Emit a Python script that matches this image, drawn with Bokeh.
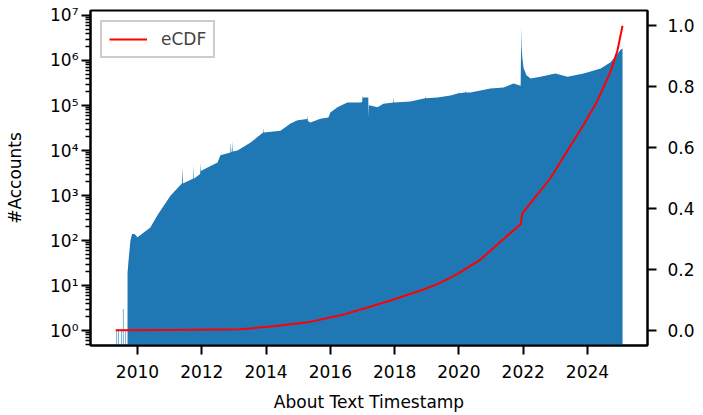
from bokeh.plotting import figure
from bokeh.models import (Range1d, LinearAxis, LinearScale, FixedTicker, CustomJSTickFormatter,
                          PrintfTickFormatter, Legend, LegendItem)
from bokeh.embed import file_html
from bokeh.resources import INLINE

# ---- data ----
# upper envelope of the daily histogram (year, #accounts)
hist_year = [2009.69, 2009.72, 2009.78, 2009.83, 2009.91, 2010.00, 2010.40, 2010.62, 2011.03,
             2011.38, 2011.40, 2011.41, 2011.74, 2011.75, 2011.76, 2011.95, 2011.96, 2011.97,
             2012.12, 2012.49, 2012.58, 2012.89, 2012.90, 2012.92, 2012.95, 2012.96, 2012.97,
             2013.11, 2013.20, 2013.52, 2013.91, 2013.92, 2013.93, 2014.45, 2014.76, 2014.98,
             2015.28, 2015.29, 2015.30, 2015.38, 2015.69, 2015.94, 2016.00, 2016.22, 2016.53,
             2016.94, 2016.99, 2017.00, 2017.01, 2017.12, 2017.18, 2017.19, 2017.20, 2017.25,
             2017.47, 2017.56, 2017.65, 2017.96, 2017.97, 2017.98, 2018.49, 2018.95, 2018.96,
             2018.97, 2019.33, 2019.74, 2019.99, 2020.00, 2020.01, 2020.19, 2020.20, 2020.21,
             2020.36, 2020.98, 2021.39, 2021.70, 2021.92, 2021.94, 2021.95, 2021.97, 2022.01,
             2022.10, 2022.23, 2022.54, 2023.00, 2023.38, 2023.88, 2024.41, 2024.72, 2025.03,
             2025.09]
hist_count = [19, 35, 100, 140, 140, 118, 195, 363, 1000,
              1860, 4170, 1860, 2400, 4680, 2400, 3000, 5400, 3500,
              4000, 5400, 7800, 9000, 15000, 9200, 9500, 16600, 9500,
              10000, 11000, 15100, 25000, 32000, 25000, 27500, 40000, 47000,
              50000, 60000, 45000, 42000, 51000, 54000, 70000, 91000, 117000,
              117000, 120000, 166000, 150000, 150000, 150000, 54000, 100000, 100000,
              91000, 100000, 110000, 117000, 150000, 117000, 123000, 145000, 160000,
              145000, 151000, 166000, 186000, 200000, 186000, 195000, 214000, 195000,
              195000, 240000, 251000, 309000, 275000, 5750000, 2000000, 1200000, 690000,
              470000, 400000, 436000, 513000, 436000, 513000, 660000, 912000, 1740000,
              1850000]
# isolated early bars
sparse_year = [2009.35, 2009.41, 2009.50, 2009.56, 2009.63]
sparse_count = [1, 1, 1, 3, 1]
# empirical CDF
cdf_year = [2009.32, 2011.00, 2013.20, 2014.23, 2015.29, 2016.32, 2017.16, 2017.87, 2018.90,
            2019.40, 2019.96, 2020.67, 2021.39, 2021.92, 2021.95, 2021.98, 2022.29, 2022.85,
            2023.38, 2023.88, 2024.31, 2024.72, 2024.93, 2025.09]
cdf_value = [0.0, 0.001, 0.003, 0.013, 0.026, 0.049, 0.075, 0.098, 0.134,
             0.155, 0.185, 0.232, 0.30, 0.348, 0.37, 0.385, 0.426, 0.50,
             0.59, 0.675, 0.754, 0.85, 0.918, 1.0]

x_ticks = [2010, 2012, 2014, 2016, 2018, 2020, 2022, 2024]
y_ticks = [1, 10, 100, 1000, 10000, 100000, 1000000, 10000000]
cdf_ticks = [0.0, 0.2, 0.4, 0.6, 0.8, 1.0]

FONT = "DejaVu Sans"
FS = "17px"
BLUE = "#1f77b4"

p = figure(width=703, height=415,
           x_range=Range1d(2008.538, 2025.867),
           y_range=Range1d(10 ** -0.333, 10 ** 7.111),
           y_axis_type="log",
           output_backend="svg", toolbar_location=None,
           min_border_left=90, min_border_right=56, min_border_top=10, min_border_bottom=70)
p.grid.visible = False
p.outline_line_color = "black"
p.outline_line_width = 2
p.outline_line_alpha = 1
p.background_fill_color = "white"
p.border_fill_color = "white"

# histogram
p.varea(x=hist_year, y1=0.01, y2=hist_count, fill_color=BLUE, fill_alpha=1.0)
p.segment(x0=sparse_year, y0=0.01, x1=sparse_year, y1=sparse_count,
          line_color=BLUE, line_width=1, line_alpha=0.6)

# eCDF on second (linear) axis
p.extra_y_ranges = {"cdf": Range1d(-0.05, 1.05)}
p.extra_y_scales = {"cdf": LinearScale()}
cdf_line = p.line(cdf_year, cdf_value, y_range_name="cdf", line_color="red", line_width=2,
                  line_join="round")

raxis = LinearAxis(y_range_name="cdf")
raxis.ticker = FixedTicker(ticks=cdf_ticks, minor_ticks=[])
raxis.formatter = PrintfTickFormatter(format="%.1f")
p.add_layout(raxis, "right")

# left axis
yax = p.yaxis[0]
minor = [k * 10 ** n for n in range(-1, 8) for k in range(2, 10)]
yax.ticker = FixedTicker(ticks=y_ticks, minor_ticks=minor)
yax.formatter = CustomJSTickFormatter(code=r"""
const sup = {'0':'\u2070','1':'\u00b9','2':'\u00b2','3':'\u00b3','4':'\u2074',
             '5':'\u2075','6':'\u2076','7':'\u2077','8':'\u2078','9':'\u2079','-':'\u207b'};
const e = Math.round(Math.log10(tick));
return '10' + String(e).split('').map(c => sup[c]).join('');
""")
yax.axis_label = "#Accounts"
yax.axis_label_standoff = 22
yax.major_label_standoff = 3

xax = p.xaxis[0]
xax.ticker = FixedTicker(ticks=x_ticks, minor_ticks=[])
xax.axis_label = "About Text Timestamp"
xax.axis_label_standoff = 11
xax.major_label_standoff = 10

for ax in [xax, yax, raxis]:
    ax.axis_line_color = "black"
    ax.axis_line_width = 2
    ax.major_tick_line_color = "black"
    ax.major_tick_line_width = 2
    ax.major_tick_out = 9
    ax.major_tick_in = 0
    ax.minor_tick_line_color = "black"
    ax.minor_tick_line_width = 1.5
    ax.minor_tick_out = 5
    ax.minor_tick_in = 0
    ax.major_label_text_font = FONT
    ax.major_label_text_font_size = FS
    ax.major_label_text_color = "black"
    ax.axis_label_text_font = FONT
    ax.axis_label_text_font_size = FS
    ax.axis_label_text_font_style = "normal"
    ax.axis_label_text_color = "black"
raxis.minor_tick_line_color = None
raxis.major_label_standoff = 11
xax.minor_tick_line_color = None

legend = Legend(items=[LegendItem(label="eCDF", renderers=[cdf_line])],
                location="top_left", margin=10, padding=7, spacing=0,
                glyph_width=38, glyph_height=20, label_standoff=14, label_height=20,
                label_text_font=FONT, label_text_font_size=FS,
                border_line_color="#cccccc", border_line_width=2, border_line_alpha=1,
                background_fill_color="white", background_fill_alpha=0.8)
p.add_layout(legend)

open("out.html", "w").write(file_html(p, INLINE))
